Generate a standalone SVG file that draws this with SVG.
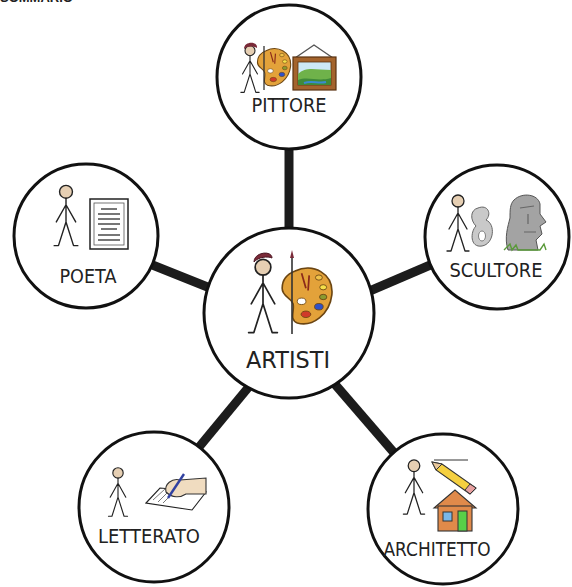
<svg xmlns="http://www.w3.org/2000/svg" xmlns:xlink="http://www.w3.org/1999/xlink" width="572" height="587" viewBox="0 0 572 587">
  <style>
    .ring { fill: #ffffff; stroke: #111111; stroke-width: 3; }
    .link { stroke: #1c1c1c; stroke-width: 9; stroke-linecap: butt; fill: none; }
    .label { font-family: "DejaVu Sans", "Liberation Sans", sans-serif; fill: #222222; }
    .ink { fill: none; stroke: #222222; stroke-width: 1.3; stroke-linecap: round; stroke-linejoin: round; }
  </style>
  <defs>
    <!-- stick figure used in every node -->
    <symbol id="man" viewBox="0 0 26 60">
      <circle cx="13" cy="8" r="6" fill="#e6cfb3" stroke="#222" stroke-width="1.3"/>
      <path class="ink" d="M13 14 V36 M13 20 L4 36 M13 20 L22 36 M13 36 L6 58 H2 M13 36 L20 58 H24"/>
    </symbol>
    <!-- painter's palette -->
    <symbol id="palette" viewBox="0 0 50 60">
      <path d="M14 6 C30 -2 50 8 48 28 C46 46 30 58 16 54 C8 51 14 42 12 36 C10 30 2 30 2 22 C2 14 6 9 14 6 Z" fill="#e3a23a" stroke="#6b4512" stroke-width="1.5"/>
      <ellipse cx="36" cy="12" rx="3.2" ry="2.4" fill="#f0c24a" stroke="#6b4512" stroke-width="0.8"/>
      <ellipse cx="40" cy="21" rx="3.2" ry="2.4" fill="#f5e04a" stroke="#6b4512" stroke-width="0.8"/>
      <ellipse cx="40" cy="30" rx="3.4" ry="2.5" fill="#8a9a30" stroke="#6b4512" stroke-width="0.8"/>
      <ellipse cx="36" cy="39" rx="4" ry="3" fill="#3050c8" stroke="#6b4512" stroke-width="0.8"/>
      <ellipse cx="24" cy="46" rx="4.5" ry="3" fill="#d03a2a" stroke="#6b4512" stroke-width="0.8"/>
      <ellipse cx="20" cy="34" rx="4" ry="3" fill="#ffffff" stroke="#6b4512" stroke-width="0.8"/>
      <path d="M20 8 L24 22 M27 10 L26 24" stroke="#8b2a1a" stroke-width="1.6" fill="none"/>
    </symbol>
  </defs>

  <!-- page heading, cut at the top edge -->
  <text x="0" y="2" font-family="Liberation Sans, sans-serif" font-size="13" font-weight="bold" fill="#222">SOMMARIO</text>

  <!-- connectors from the hub to each node -->
  <g id="connectors">
    <line class="link" x1="289" y1="140" x2="289" y2="240"/>
    <line class="link" x1="150" y1="264" x2="215" y2="290"/>
    <line class="link" x1="365" y1="293" x2="435" y2="263"/>
    <line class="link" x1="252" y1="383" x2="190" y2="458"/>
    <line class="link" x1="333" y1="382" x2="402" y2="462"/>
  </g>

  <!-- hub -->
  <g id="artisti">
    <circle class="ring" cx="289" cy="313" r="85"/>
    <use href="#man" x="246" y="256" width="34" height="80"/>
    <path d="M254 262 C254 252 272 250 272 258 C268 256 258 257 254 262 Z" fill="#7a2a38" stroke="#4a1420" stroke-width="1"/>
    <use href="#palette" x="280" y="264" width="54" height="66"/>
    <path d="M292 258 L292 334" stroke="#333" stroke-width="1.6"/>
    <path d="M290 258 L292 250 L294 258 Z" fill="#7a2a38"/>
    <text class="label" x="288" y="368" font-size="23" text-anchor="middle" textLength="84" lengthAdjust="spacingAndGlyphs">ARTISTI</text>
  </g>

  <!-- top node -->
  <g id="pittore">
    <circle class="ring" cx="289" cy="77" r="72"/>
    <use href="#man" x="239" y="44" width="22" height="50"/>
    <path d="M244 49 C244 41 258 41 257 48 C254 46 248 46 244 49 Z" fill="#7a2a38"/>
    <use href="#palette" x="256" y="46" width="36" height="44"/>
    <path d="M264 46 L264 90" stroke="#333" stroke-width="1.3"/>
    <!-- framed landscape -->
    <path d="M295 58 L314 45 L333 58" fill="none" stroke="#555" stroke-width="1.4"/>
    <rect x="293" y="57" width="43" height="33" fill="#a4642d" stroke="#5a3311" stroke-width="1.2"/>
    <rect x="298" y="62" width="33" height="23" fill="#cde9f6" stroke="#5a3311" stroke-width="0.8"/>
    <path d="M298 74 C306 66 316 70 331 70 V85 H298 Z" fill="#6fb24a"/>
    <path d="M298 80 C308 76 318 82 331 78 V85 H298 Z" fill="#3f8a3a"/>
    <path d="M304 83 C312 80 318 84 326 82" stroke="#3a8ad0" stroke-width="2" fill="none"/>
    <text class="label" x="289" y="112" font-size="20" text-anchor="middle" textLength="75" lengthAdjust="spacingAndGlyphs">PITTORE</text>
  </g>

  <!-- upper-left node -->
  <g id="poeta">
    <circle class="ring" cx="86" cy="236" r="72"/>
    <use href="#man" x="52" y="183" width="28" height="65"/>
    <rect x="90" y="199" width="38" height="50" fill="#ffffff" stroke="#222" stroke-width="1.5"/>
    <rect x="94" y="203" width="30" height="42" fill="none" stroke="#555" stroke-width="0.8"/>
    <g stroke="#777" stroke-width="2">
      <line x1="101" y1="209" x2="117" y2="209"/>
      <line x1="98" y1="214" x2="120" y2="214"/>
      <line x1="98" y1="219" x2="120" y2="219"/>
      <line x1="98" y1="224" x2="120" y2="224"/>
      <line x1="101" y1="229" x2="117" y2="229"/>
      <line x1="98" y1="235" x2="120" y2="235"/>
      <line x1="98" y1="240" x2="120" y2="240"/>
    </g>
    <text class="label" x="88" y="283" font-size="20" text-anchor="middle" textLength="57" lengthAdjust="spacingAndGlyphs">POETA</text>
  </g>

  <!-- upper-right node -->
  <g id="scultore">
    <circle class="ring" cx="497" cy="237" r="72"/>
    <use href="#man" x="445" y="193" width="26" height="60"/>
    <!-- abstract carving -->
    <path d="M478 208 C488 204 492 214 486 220 C496 224 494 244 482 246 C470 248 470 232 476 226 C470 220 470 210 478 208 Z" fill="#c9c9c9" stroke="#666" stroke-width="1"/>
    <ellipse cx="482" cy="236" rx="3.5" ry="5" fill="#ffffff" stroke="#666" stroke-width="0.8"/>
    <!-- stone head -->
    <path d="M514 200 C522 192 538 194 540 204 L540 214 L546 222 L540 226 L542 234 L536 240 L538 250 L508 250 C504 238 508 226 510 218 C510 210 510 204 514 200 Z" fill="#a3a3a3" stroke="#555" stroke-width="1"/>
    <path d="M520 208 L534 206 M528 214 L528 224 M524 232 L536 232" stroke="#666" stroke-width="1.2" fill="none"/>
    <path d="M504 250 L510 244 L512 250 L516 245 L518 250 L540 250 L544 244 L546 250" stroke="#5a9a3a" stroke-width="1.4" fill="none"/>
    <text class="label" x="496" y="277" font-size="20" text-anchor="middle" textLength="93" lengthAdjust="spacingAndGlyphs">SCULTORE</text>
  </g>

  <!-- lower-left node -->
  <g id="letterato">
    <circle class="ring" cx="154" cy="507" r="75"/>
    <use href="#man" x="106" y="466" width="24" height="52"/>
    <!-- writing hand on paper -->
    <path d="M146 503 L160 488 L206 492 L192 510 Z" fill="#ffffff" stroke="#222" stroke-width="1.1"/>
    <path d="M153 500 L165 489 M158 502 L170 490 M163 503 L175 491" stroke="#555" stroke-width="0.8"/>
    <path d="M166 492 C164 484 172 478 180 480 L206 478 L206 494 L186 494 C180 498 172 498 166 492 Z" fill="#f0dcc0" stroke="#333" stroke-width="1.1"/>
    <path d="M168 498 L184 474" stroke="#3040a0" stroke-width="2.4"/>
    <text class="label" x="149" y="543" font-size="19" text-anchor="middle" textLength="102" lengthAdjust="spacingAndGlyphs">LETTERATO</text>
  </g>

  <!-- lower-right node -->
  <g id="architetto">
    <circle class="ring" cx="443" cy="509" r="75"/>
    <use href="#man" x="400" y="458" width="28" height="58"/>
    <!-- pencil and ruled line -->
    <line x1="434" y1="460" x2="468" y2="460" stroke="#333" stroke-width="1"/>
    <path d="M432 462 L442 464 L476 488 L470 494 L436 470 Z" fill="#f5d040" stroke="#333" stroke-width="1.1"/>
    <path d="M432 462 L442 464 L436 470 Z" fill="#e8c79a" stroke="#333" stroke-width="1"/>
    <path d="M470 484 L476 488 L470 494 L465 490 Z" fill="#e8a0a0" stroke="#333" stroke-width="1"/>
    <!-- house -->
    <path d="M434 508 L455 490 L476 508 Z" fill="#e08a4a" stroke="#333" stroke-width="1.1"/>
    <rect x="438" y="506" width="34" height="25" fill="#e08a4a" stroke="#333" stroke-width="1.1"/>
    <rect x="443" y="512" width="9" height="9" fill="#7ab8e8" stroke="#333" stroke-width="1"/>
    <rect x="458" y="511" width="9" height="20" fill="#58d048" stroke="#333" stroke-width="1"/>
    <text class="label" x="437" y="556" font-size="19" text-anchor="middle" textLength="107" lengthAdjust="spacingAndGlyphs">ARCHITETTO</text>
  </g>
</svg>
